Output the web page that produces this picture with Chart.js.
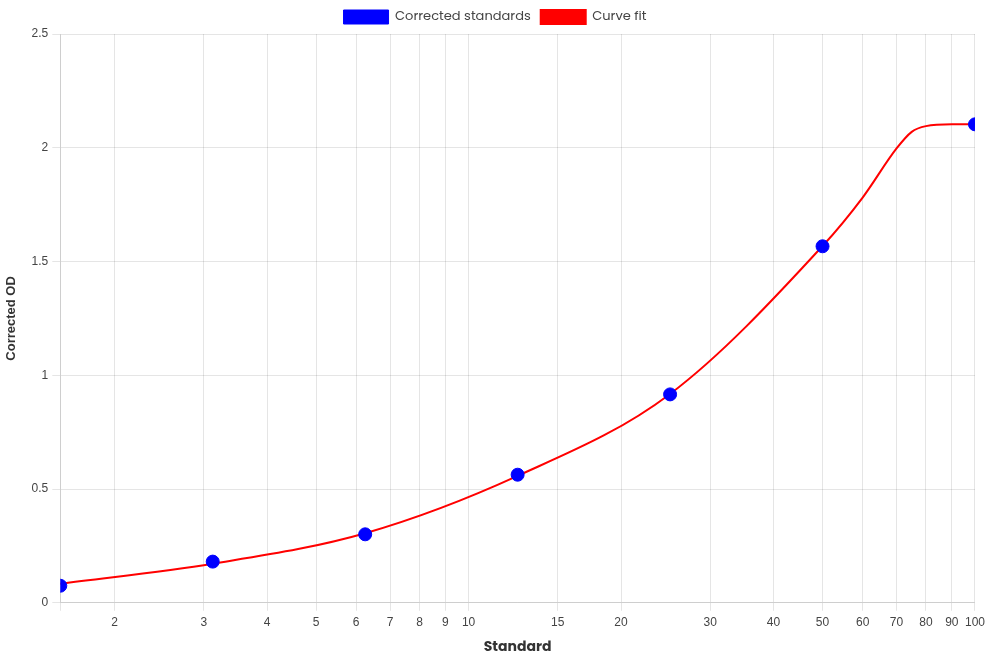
<!DOCTYPE html>
<html>
<head>
<meta charset="utf-8">
<script src="https://cdn.jsdelivr.net/npm/chart.js@4/dist/chart.umd.min.js"></script>
<style>
    html, body { margin: 0; padding: 0; background: #fff; }
    #wrap { width: 990px; height: 660px; }
</style>
</head>
<body>
<div id="wrap"><canvas id="odChart"></canvas></div>
<script>
// 標準品數據
const standards = [1.5625, 3.125, 6.25, 12.5, 25, 50, 100];
const correctedOD = [0.075, 0.181, 0.301, 0.563, 0.916, 1.567, 2.103];

// 擬合曲線
const fitX = [1.5625, 3.125, 6.25, 12.5, 25, 50, 60, 70, 75, 80, 90, 100];
const fitY = [0.084, 0.172, 0.306, 0.558, 0.918, 1.568, 1.781, 1.997, 2.07, 2.095, 2.103, 2.103];

// 坐標軸刻度
const xTicks = [1.5625, 2, 3, 4, 5, 6, 7, 8, 9, 10, 15, 20, 30, 40, 50, 60, 70, 80, 90, 100];
const yTicks = [0, 0.5, 1, 1.5, 2, 2.5];

const toPoints = (xs, ys) => xs.map((x, i) => ({ x: x, y: ys[i] }));

const arial = '"Liberation Sans", Arial, sans-serif';
const poppins = '"Poppins", "Lato", sans-serif';
const tickFont = { family: arial, size: 12 };

new Chart(document.getElementById('odChart'), {
    type: 'scatter',
    data: {
        datasets: [
            {
                label: 'Corrected standards',
                data: toPoints(standards, correctedOD),
                backgroundColor: '#0000ff',
                borderColor: '#0000ff',
                pointRadius: 6.5,
                pointHoverRadius: 6.5
            },
            {
                label: 'Curve fit',
                data: toPoints(fitX, fitY),
                showLine: true,
                borderColor: '#ff0000',
                backgroundColor: '#ff0000',
                borderWidth: 2,
                pointRadius: 0,
                cubicInterpolationMode: 'monotone'
            }
        ]
    },
    options: {
        responsive: true,
        maintainAspectRatio: false,
        animation: false,
        plugins: {
            legend: {
                labels: {
                    font: { family: poppins, size: 13 },
                    color: '#444',
                    boxWidth: 45,
                    boxHeight: 14
                }
            },
            tooltip: { enabled: false }
        },
        scales: {
            x: {
                type: 'logarithmic',
                min: xTicks[0],
                max: 100,
                afterBuildTicks: axis => { axis.ticks = xTicks.map(v => ({ value: v })); },
                afterFit: axis => { axis.paddingRight = Math.max(axis.paddingRight, 15); },
                title: {
                    display: true,
                    text: 'Standard',
                    font: { family: poppins, size: 14, weight: 'bold' },
                    color: '#333',
                    padding: { top: 4, bottom: 4 }
                },
                ticks: {
                    font: tickFont,
                    color: '#444',
                    autoSkip: false,
                    maxRotation: 0,
                    padding: 5,
                    callback: (value, index) => index === 0 ? '' : String(value)
                }
            },
            y: {
                min: 0,
                max: 2.5,
                afterBuildTicks: axis => { axis.ticks = yTicks.map(v => ({ value: v })); },
                title: {
                    display: true,
                    text: 'Corrected OD',
                    font: { family: arial, size: 13, weight: 'bold' },
                    color: '#333',
                    padding: { top: 4, bottom: 8 }
                },
                ticks: {
                    font: tickFont,
                    color: '#444',
                    padding: 4,
                    callback: value => String(value)
                }
            }
        }
    }
});
</script>
</body>
</html>
